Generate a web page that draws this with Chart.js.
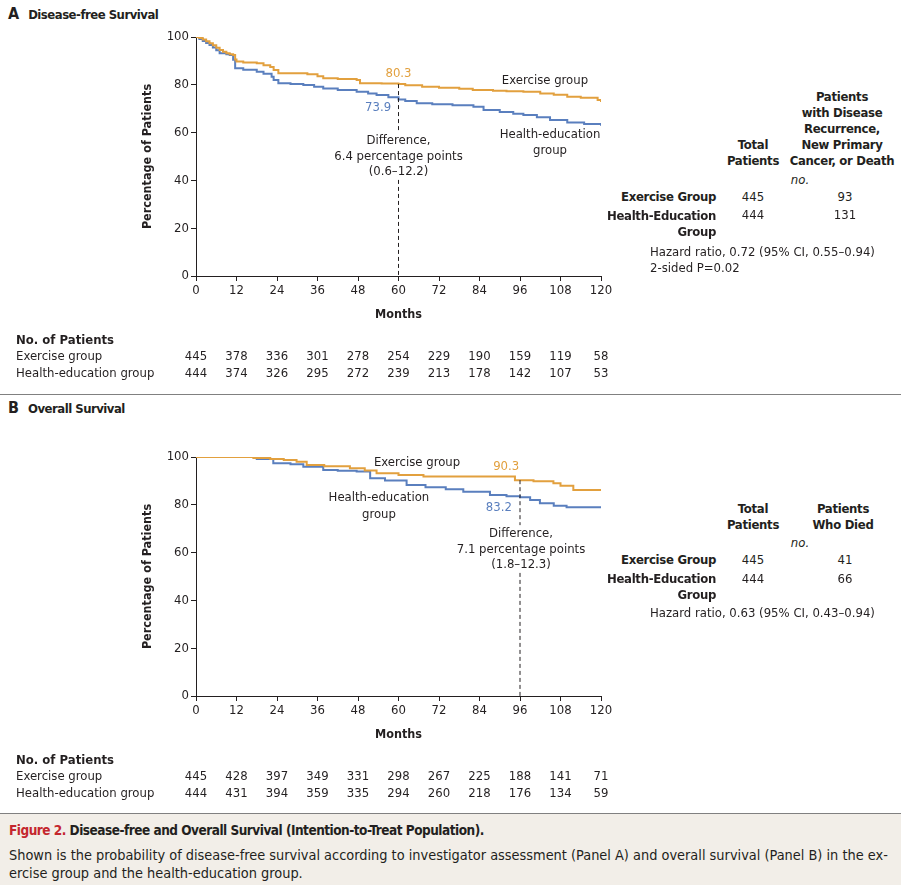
<!DOCTYPE html>
<html>
<head>
<meta charset="utf-8">
<script src="https://cdn.jsdelivr.net/npm/chart.js@4.4.1/dist/chart.umd.min.js"></script>
<style>
body { margin: 0; background: #fff; }
#page { position: relative; width: 901px; height: 885px; overflow: hidden;
  font-family: "Liberation Sans Narrow", "DejaVu Sans Condensed", sans-serif; color: #231f20; }
canvas { position: absolute; left: 0; }
.t { position: absolute; white-space: nowrap; font-size: 13px; line-height: 16px; }
.b { font-weight: bold; letter-spacing: -0.3px; }
.c { transform: translateX(-50%); text-align: center; }
.r { transform: translateX(-100%); text-align: right; }
.panel { font-size: 13px; font-weight: bold; letter-spacing: -0.5px; }
.panel span { font-size: 16px; margin-right: 9px; letter-spacing: 0; }
#sep { position: absolute; left: 0; top: 394px; width: 901px; height: 0; border-top: 1.5px solid #808080; }
#caption { position: absolute; left: 0; top: 813px; width: 901px; height: 72px; background: #f2eee8;
  border-top: 1.5px solid #808080; }
#caption div { position: absolute; left: 9px; white-space: nowrap; font-size: 14.4px; }
</style>
</head>
<body>
<div id="page">
  <div class="t panel" style="left:8px;top:6px;"><span>A</span>Disease-free Survival</div>
  <canvas id="chartA" width="620" height="390" style="top:0px;width:620px;height:390px;"></canvas>

  <div class="t b c" style="left:842px;top:89px;line-height:16px;">Patients<br>with Disease<br>Recurrence,<br>New Primary<br>Cancer, or Death</div>
  <div class="t b c" style="left:753px;top:137px;">Total<br>Patients</div>
  <div class="t c" style="left:800px;top:172px;font-style:italic;">no.</div>
  <div class="t b r" style="left:716px;top:189px;">Exercise Group</div>
  <div class="t c" style="left:753px;top:189px;">445</div>
  <div class="t c" style="left:845px;top:189px;">93</div>
  <div class="t b r" style="left:716px;top:208px;">Health-Education<br>Group</div>
  <div class="t c" style="left:753px;top:207px;">444</div>
  <div class="t c" style="left:845px;top:207px;">131</div>
  <div class="t" style="left:650px;top:244px;">Hazard ratio, 0.72 (95% CI, 0.55–0.94)<br>2-sided P=0.02</div>

  <div id="sep"></div>

  <div class="t panel" style="left:8px;top:400px;"><span>B</span>Overall Survival</div>
  <canvas id="chartB" width="620" height="390" style="top:420px;width:620px;height:390px;"></canvas>

  <div class="t b c" style="left:753px;top:501px;">Total<br>Patients</div>
  <div class="t b c" style="left:843px;top:501px;">Patients<br>Who Died</div>
  <div class="t c" style="left:800px;top:535px;font-style:italic;">no.</div>
  <div class="t b r" style="left:716px;top:552px;">Exercise Group</div>
  <div class="t c" style="left:753px;top:552px;">445</div>
  <div class="t c" style="left:845px;top:552px;">41</div>
  <div class="t b r" style="left:716px;top:571px;">Health-Education<br>Group</div>
  <div class="t c" style="left:753px;top:571px;">444</div>
  <div class="t c" style="left:845px;top:571px;">66</div>
  <div class="t" style="left:650px;top:605px;">Hazard ratio, 0.63 (95% CI, 0.43–0.94)</div>

  <div id="caption">
    <div style="top:8px;font-weight:bold;font-size:13.5px;letter-spacing:-0.5px;"><span style="color:#c4262e;">Figure 2.</span> Disease-free and Overall Survival (Intention-to-Treat Population).</div>
    <div style="top:33px;">Shown is the probability of disease-free survival according to investigator assessment (Panel A) and overall survival (Panel B) in the ex-</div>
    <div style="top:51px;">ercise group and the health-education group.</div>
  </div>
</div>

<script>
// months / percent
var dfsExercise = [[0,100],[1,99.6],[2,99],[3,98.2],[4,97.4],[5,96.6],[6,95.5],[7,94.6],[8,93.8],[9,93.2],[10,92.8],[11,92.5],[11.6,90.6],[12,89.7],[14,89.3],[18,89],[20,88.2],[22,87.5],[23,86.2],[24.4,84.8],[30,84.8],[33,84.4],[36,83.6],[37.7,82.7],[42,82.4],[47.6,82],[48.6,80.6],[55,80.5],[60,80.3],[62,79.8],[67,79.2],[72,78.8],[78,78.3],[82,77.8],[88,77.5],[92,77.3],[97,77.1],[102,76.4],[106,75.8],[110,75],[114,74.6],[119,73.6],[120,72.8]];
var dfsHealth = [[0,100],[1,99.2],[2,98.3],[3,97.5],[4,96.7],[5,95.6],[6,94.5],[7,93.2],[9,92.8],[10,92.5],[11,90.5],[11.6,86.9],[14,86.3],[18,85.5],[20,84.6],[22.4,83.4],[23,82],[24.4,80.6],[28,80.3],[31.8,79.9],[35,79.2],[37.7,78.5],[42,77.8],[47.6,77.1],[51,76.4],[53.5,75.7],[57,74.8],[60,73.9],[62,73.2],[65.4,72.3],[70,71.9],[76,71.4],[82.2,70.8],[85.2,69.5],[90,68.6],[94,67.9],[97,67.4],[101,66.4],[104.9,65.3],[110,64.2],[115,63.6],[120,62.9]];
var osExercise = [[0,100],[16,100],[17,99.6],[22,99.2],[26,98.7],[29.8,98],[32.8,96.7],[38,96.1],[45.6,95.3],[50,94.4],[53.5,93.2],[60,92.5],[67.4,91.8],[80,91.8],[92,91.8],[94.5,90.3],[100,89.9],[105.9,89],[108,88],[111.8,86.2],[120,85.8]];
var osHealth = [[0,100],[16,100],[18,99.2],[22.9,97.4],[28,97],[31.8,95.9],[37.7,94.6],[42,94.2],[47.6,93.9],[51.6,91.1],[56,90.2],[62.4,88.3],[68,87.3],[74,86.5],[79.2,85.5],[87.1,84.1],[92,83.6],[96,83.2],[99,82],[101.9,80.6],[106,79.6],[109.8,79],[120,78.9]];

var riskMonths = [0,12,24,36,48,60,72,84,96,108,120];
var dfsRiskExercise = [445,378,336,301,278,254,229,190,159,119,58];
var dfsRiskHealth = [444,374,326,295,272,239,213,178,142,107,53];
var osRiskExercise = [445,428,397,349,331,298,267,225,188,141,71];
var osRiskHealth = [444,431,394,359,335,294,260,218,176,134,59];

var ORANGE = '#e2a03e';
var BLUE = '#5a7fbe';
var INK = '#231f20';
var FONT = '"Liberation Sans Narrow", "DejaVu Sans Condensed", sans-serif';

function toXY(arr) {
  return arr.map(function (p) { return {x: p[0], y: p[1]}; });
}

var notesPlugin = {
  id: 'notes',
  afterDatasetsDraw: function (chart) {
    var n = chart.options.plugins.notes;
    var ctx = chart.ctx, xs = chart.scales.x, ys = chart.scales.y;
    ctx.save();
    // dashed difference line, broken where the text sits
    ctx.strokeStyle = INK;
    ctx.lineWidth = 1;
    ctx.setLineDash([4, 3]);
    var lx = xs.getPixelForValue(n.diffX);
    n.diffSegments.forEach(function (s) {
      ctx.beginPath();
      ctx.moveTo(lx, ys.getPixelForValue(s[0]));
      ctx.lineTo(lx, ys.getPixelForValue(s[1]));
      ctx.stroke();
    });
    ctx.setLineDash([]);
    ctx.font = '13px ' + FONT;
    ctx.textBaseline = 'middle';
    n.labels.forEach(function (l) {
      ctx.fillStyle = l.color || INK;
      ctx.textAlign = l.align || 'center';
      ctx.fillText(l.text, xs.getPixelForValue(l.x), ys.getPixelForValue(l.y));
    });
    ctx.restore();
  },
  afterDraw: function (chart) {
    var n = chart.options.plugins.notes;
    var ctx = chart.ctx, xs = chart.scales.x;
    ctx.save();
    ctx.fillStyle = INK;
    ctx.textBaseline = 'middle';
    ctx.textAlign = 'left';
    ctx.font = 'bold 13px ' + FONT;
    ctx.fillText('No. of Patients', 16, 341);
    ctx.font = '13px ' + FONT;
    ctx.fillText('Exercise group', 16, 357);
    ctx.fillText('Health-education group', 16, 374);
    ctx.textAlign = 'center';
    riskMonths.forEach(function (m, i) {
      var px = xs.getPixelForValue(m);
      ctx.fillText(String(n.riskEx[i]), px, 357);
      ctx.fillText(String(n.riskHe[i]), px, 374);
    });
    ctx.restore();
  }
};

function makeChart(id, ex, he, notes) {
  var tickFont = {family: FONT, size: 13};
  var titleFont = {family: FONT, size: 12.5, weight: 'bold'};
  return new Chart(document.getElementById(id), {
    type: 'line',
    data: {
      datasets: [
        {label: 'Exercise group', data: toXY(ex), borderColor: ORANGE, borderWidth: 2, stepped: true, pointRadius: 0, fill: false},
        {label: 'Health-education group', data: toXY(he), borderColor: BLUE, borderWidth: 2, stepped: true, pointRadius: 0, fill: false}
      ]
    },
    options: {
      responsive: false,
      animation: false,
      layout: {padding: {top: 37, right: 19, bottom: 64, left: 0}},
      plugins: {legend: {display: false}, tooltip: {enabled: false}, notes: notes},
      scales: {
        x: {
          type: 'linear', min: 0, max: 120,
          ticks: {stepSize: 12, color: INK, font: tickFont, padding: 2, maxRotation: 0},
          grid: {drawOnChartArea: false, color: INK, tickLength: 5},
          border: {color: INK, width: 1},
          title: {display: true, text: 'Months', color: INK, font: titleFont, padding: {top: 0, bottom: 4}},
          afterFit: function (s) { s.height = 50; }
        },
        y: {
          min: 0, max: 100,
          ticks: {stepSize: 20, color: INK, font: tickFont, padding: 2},
          grid: {drawOnChartArea: false, color: INK, tickLength: 5},
          border: {color: INK, width: 1},
          title: {display: true, text: 'Percentage of Patients', color: INK, font: titleFont, padding: {top: 140, bottom: 0}},
          afterFit: function (s) { s.width = 196; }
        }
      }
    },
    plugins: [notesPlugin]
  });
}

makeChart('chartA', dfsExercise, dfsHealth, {
  riskEx: dfsRiskExercise, riskHe: dfsRiskHealth,
  diffX: 60, diffSegments: [[80.3, 59.8], [40.2, 0]],
  labels: [
    {text: '80.3', x: 60, y: 84.5, color: ORANGE},
    {text: '73.9', x: 57.8, y: 70.3, color: BLUE, align: 'right'},
    {text: 'Exercise group', x: 103.4, y: 81.6},
    {text: 'Health-education', x: 104.9, y: 59},
    {text: 'group', x: 104.9, y: 52.3},
    {text: 'Difference,', x: 60, y: 56.5},
    {text: '6.4 percentage points', x: 60, y: 49.8},
    {text: '(0.6–12.2)', x: 60, y: 43.5}
  ]
});

makeChart('chartB', osExercise, osHealth, {
  riskEx: osRiskExercise, riskHe: osRiskHealth,
  diffX: 96, diffSegments: [[90.3, 71.5], [51.5, 0]],
  labels: [
    {text: 'Exercise group', x: 65.5, y: 97.5},
    {text: '90.3', x: 91.9, y: 95.8, color: ORANGE},
    {text: 'Health-education', x: 54.2, y: 82.8},
    {text: 'group', x: 54.2, y: 75.7},
    {text: '83.2', x: 93.6, y: 78.7, color: BLUE, align: 'right'},
    {text: 'Difference,', x: 96.3, y: 67.8},
    {text: '7.1 percentage points', x: 96.3, y: 61.1},
    {text: '(1.8–12.3)', x: 96.3, y: 54.8}
  ]
});
</script>
</body>
</html>
